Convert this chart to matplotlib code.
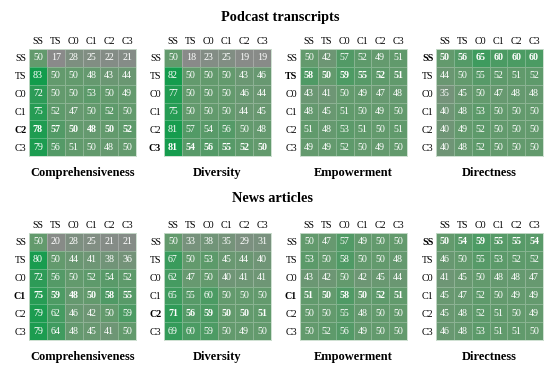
import matplotlib
matplotlib.use('Agg')
import matplotlib.pyplot as plt
import numpy as np
from matplotlib.colors import LinearSegmentedColormap

plt.rcParams['font.family'] = 'Liberation Serif'
plt.rcParams['font.size'] = 7

labels = ['SS', 'TS', 'C0', 'C1', 'C2', 'C3']
metrics = ['Comprehensiveness', 'Diversity', 'Empowerment', 'Directness']

# Podcast transcripts
pod_comp = [[50, 17, 28, 25, 22, 21],
            [83, 50, 50, 48, 43, 44],
            [72, 50, 50, 53, 50, 49],
            [75, 52, 47, 50, 52, 50],
            [78, 57, 50, 48, 50, 52],
            [79, 56, 51, 50, 48, 50]]
pod_div = [[50, 18, 23, 25, 19, 19],
           [82, 50, 50, 50, 43, 46],
           [77, 50, 50, 50, 46, 44],
           [75, 50, 50, 50, 44, 45],
           [81, 57, 54, 56, 50, 48],
           [81, 54, 56, 55, 52, 50]]
pod_emp = [[50, 42, 57, 52, 49, 51],
           [58, 50, 59, 55, 52, 51],
           [43, 41, 50, 49, 47, 48],
           [48, 45, 51, 50, 49, 50],
           [51, 48, 53, 51, 50, 51],
           [49, 49, 52, 50, 49, 50]]
pod_dir = [[50, 56, 65, 60, 60, 60],
           [44, 50, 55, 52, 51, 52],
           [35, 45, 50, 47, 48, 48],
           [40, 48, 53, 50, 50, 50],
           [40, 49, 52, 50, 50, 50],
           [40, 48, 52, 50, 50, 50]]
pod_bold = [4, 5, 1, 0]

# News articles
news_comp = [[50, 20, 28, 25, 21, 21],
             [80, 50, 44, 41, 38, 36],
             [72, 56, 50, 52, 54, 52],
             [75, 59, 48, 50, 58, 55],
             [79, 62, 46, 42, 50, 59],
             [79, 64, 48, 45, 41, 50]]
news_div = [[50, 33, 38, 35, 29, 31],
            [67, 50, 53, 45, 44, 40],
            [62, 47, 50, 40, 41, 41],
            [65, 55, 60, 50, 50, 50],
            [71, 56, 59, 50, 50, 51],
            [69, 60, 59, 50, 49, 50]]
news_emp = [[50, 47, 57, 49, 50, 50],
            [53, 50, 58, 50, 50, 48],
            [43, 42, 50, 42, 45, 44],
            [51, 50, 58, 50, 52, 51],
            [50, 50, 55, 48, 50, 50],
            [50, 52, 56, 49, 50, 50]]
news_dir = [[50, 54, 59, 55, 55, 54],
            [46, 50, 55, 53, 52, 52],
            [41, 45, 50, 48, 48, 47],
            [45, 47, 52, 50, 49, 49],
            [45, 48, 52, 51, 50, 49],
            [46, 48, 53, 51, 51, 50]]
news_bold = [3, 4, 3, 0]

cmap = LinearSegmentedColormap.from_list('gg', ['#8a8a8a', '#639a6d', '#129c4c'])

W, H = 554, 368
fig = plt.figure(figsize=(W / 100, H / 100), dpi=100)


def heatmap(left, top, data, bold_row, name):
    size = 107
    ax = fig.add_axes([left / W, 1 - (top + size) / H, size / W, size / H])
    data = np.array(data)
    ax.pcolormesh(data, cmap=cmap, vmin=17, vmax=83,
                  edgecolors=(1, 1, 1, 0.25), linewidth=0.5)
    ax.set_xlim(0, 6)
    ax.set_ylim(6, 0)
    for i in range(6):
        for j in range(6):
            ax.text(j + 0.5, i + 0.5, str(data[i, j]), ha='center', va='center',
                    color='white', fontsize=7.2,
                    fontweight='bold' if i == bold_row else 'normal')
    ax.xaxis.tick_top()
    ax.set_xticks(np.arange(6) + 0.5)
    ax.set_xticklabels(labels, fontsize=7.2)
    ax.set_yticks(np.arange(6) + 0.5)
    ax.set_yticklabels(labels, fontsize=7.2)
    for k, t in enumerate(ax.get_yticklabels()):
        if k == bold_row:
            t.set_fontweight('bold')
    ax.tick_params(length=0, pad=2)
    for s in ax.spines.values():
        s.set_color('#c8dccb')
        s.set_linewidth(0.6)
    ax.set_xlabel(name, fontsize=8.9, fontweight='bold', labelpad=8)


lefts = [29, 164, 300, 436]
for k, (d, m) in enumerate(zip([pod_comp, pod_div, pod_emp, pod_dir], metrics)):
    heatmap(lefts[k], 49, d, pod_bold[k], m)
for k, (d, m) in enumerate(zip([news_comp, news_div, news_emp, news_dir], metrics)):
    heatmap(lefts[k], 233, d, news_bold[k], m)

fig.text(280 / W, 1 - 17 / H, 'Podcast transcripts', ha='center', va='center',
         fontsize=10.3, fontweight='bold')
fig.text(273 / W, 1 - 199 / H, 'News articles', ha='center', va='center',
         fontsize=10.3, fontweight='bold')

fig.savefig('out.png', dpi=100)
